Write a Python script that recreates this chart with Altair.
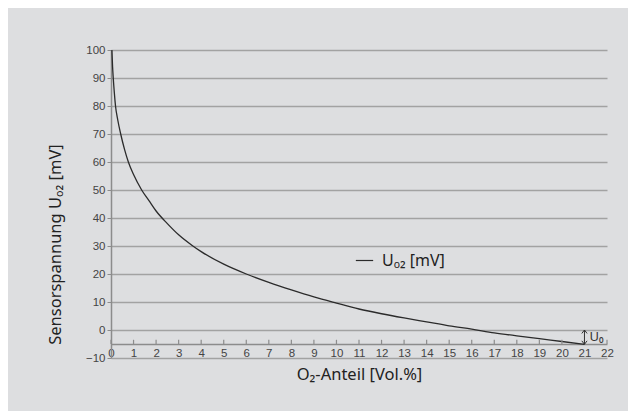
import altair as alt
import pandas as pd

# Curve
o2_share = [0.04, 0.07, 0.1, 0.15, 0.2, 0.3, 0.43, 0.6, 0.77, 1.0, 1.36, 1.7, 2.0, 2.5,
            3.0, 3.6, 4.0, 5.0, 6.0, 7.0, 8.0, 9.0, 10.0, 11.0, 12.0, 13.0, 14.0, 15.0,
            16.0, 17.0, 18.0, 19.0, 20.0, 21.0]
u_o2 = [100, 94, 90, 84.5, 80, 75, 70, 64.5, 60, 55.5, 50, 46, 42.5, 38,
        34, 30.2, 28, 23.5, 20, 17, 14.3, 11.8, 9.6, 7.5, 5.8, 4.3, 2.9, 1.5,
        0.3, -1.0, -2.1, -3.1, -4.1, -5.1]
series_name = "U\u2092\u2082 [mV]"

x_ticks = list(range(0, 23))
y_ticks = list(range(-10, 101, 10))
x_axis_level = -5
tick_top = -3.5

u0_x = 21
u0_top = 0
u0_bottom = -5.1
u0_label = "U\u2080"

GRID = "#a2a2a2"
AXIS = "#8c8c8c"
BG = "#dddee0"
TFONT = "Noto Sans"

curve_df = pd.DataFrame({"x": o2_share, "y": u_o2, "series": [series_name] * len(o2_share)})
tick_df = pd.DataFrame({"x": x_ticks, "y": [x_axis_level] * len(x_ticks), "y2": [tick_top] * len(x_ticks)})
u0_df = pd.DataFrame({"x": [u0_x], "y": [u0_top], "y2": [u0_bottom]})
u0_text_df = pd.DataFrame({"x": [u0_x], "y": [(u0_top + u0_bottom) / 2], "t": [u0_label]})
arrow_up_df = pd.DataFrame({"x": [u0_x], "y": [u0_top]})
arrow_down_df = pd.DataFrame({"x": [u0_x], "y": [u0_bottom]})

xscale = alt.Scale(domain=[0, 22], nice=False, zero=False)
yscale = alt.Scale(domain=[-10, 100], nice=False, zero=False)

x_axis = alt.Axis(
    values=x_ticks, title="O\u2082-Anteil [Vol.%]", grid=False, ticks=False,
    domainColor=AXIS, domainWidth=1.5, offset=-14, labelPadding=3,
    labelFont="Liberation Sans", labelFontSize=11.5, labelColor="#444",
    labelFlush=False, labelOverlap=False,
    titleFont=TFONT, titleFontSize=16.5, titleFontWeight="normal",
    titleColor="#222", titlePadding=8)
y_axis = alt.Axis(
    values=y_ticks, title="Sensorspannung U\u2092\u2082 [mV]", grid=True,
    gridColor=GRID, gridWidth=1.5, domainColor=AXIS, domainWidth=1.5,
    tickColor=AXIS, tickSize=4, labelPadding=2, labelOverlap=False,
    labelFont="Liberation Sans", labelFontSize=11.5, labelColor="#444",
    titleFont=TFONT, titleFontSize=16.5, titleFontWeight="normal",
    titleColor="#222", titleY=194, titleX=-56, titleBaseline="middle",
    titleAlign="center", titleAngle=270)

def X():
    return alt.X("x:Q", scale=xscale, axis=x_axis)

def Y():
    return alt.Y("y:Q", scale=yscale, axis=y_axis)

curve = alt.Chart(curve_df).mark_line(strokeWidth=1.3, interpolate="monotone").encode(
    x=X(), y=Y(),
    color=alt.Color("series:N", scale=alt.Scale(domain=[series_name], range=["#2b2b2b"]),
                    legend=alt.Legend(title=None, orient="none", legendX=244, legendY=201,
                                      symbolType="stroke", symbolSize=300,
                                      symbolStrokeWidth=1.2, labelFont=TFONT,
                                      labelFontSize=16, labelColor="#222", labelOffset=8)))

ticks = alt.Chart(tick_df).mark_rule(color=AXIS, strokeWidth=1.2).encode(
    x=X(), y=Y(), y2="y2:Q")

u0_rule = alt.Chart(u0_df).mark_rule(color="#333", strokeWidth=1).encode(
    x=X(), y=Y(), y2="y2:Q")

arrow_up = alt.Chart(arrow_up_df).mark_point(
    shape="M-1,1.3L0,0L1,1.3", filled=False, stroke="#333", strokeWidth=1, size=28,
    opacity=1).encode(x=X(), y=Y())
arrow_down = alt.Chart(arrow_down_df).mark_point(
    shape="M-1,-1.3L0,0L1,-1.3", filled=False, stroke="#333", strokeWidth=1, size=28,
    opacity=1).encode(x=X(), y=Y())

u0_text = alt.Chart(u0_text_df).mark_text(
    align="left", baseline="middle", dx=5, font=TFONT, fontSize=13, color="#333").encode(
    x=X(), y=Y(), text="t:N")

chart = alt.layer(curve, ticks, u0_rule, arrow_up, arrow_down, u0_text).properties(
    width=496, height=308,
    autosize=alt.AutoSizeParams(type="none"),
    padding={"left": 103, "top": 42, "right": 21, "bottom": 53},
    background=BG,
).configure_view(stroke=None).configure_axis(labelOverlap=False)

chart.save("out.html", embed_options={"renderer": "svg", "actions": False})
